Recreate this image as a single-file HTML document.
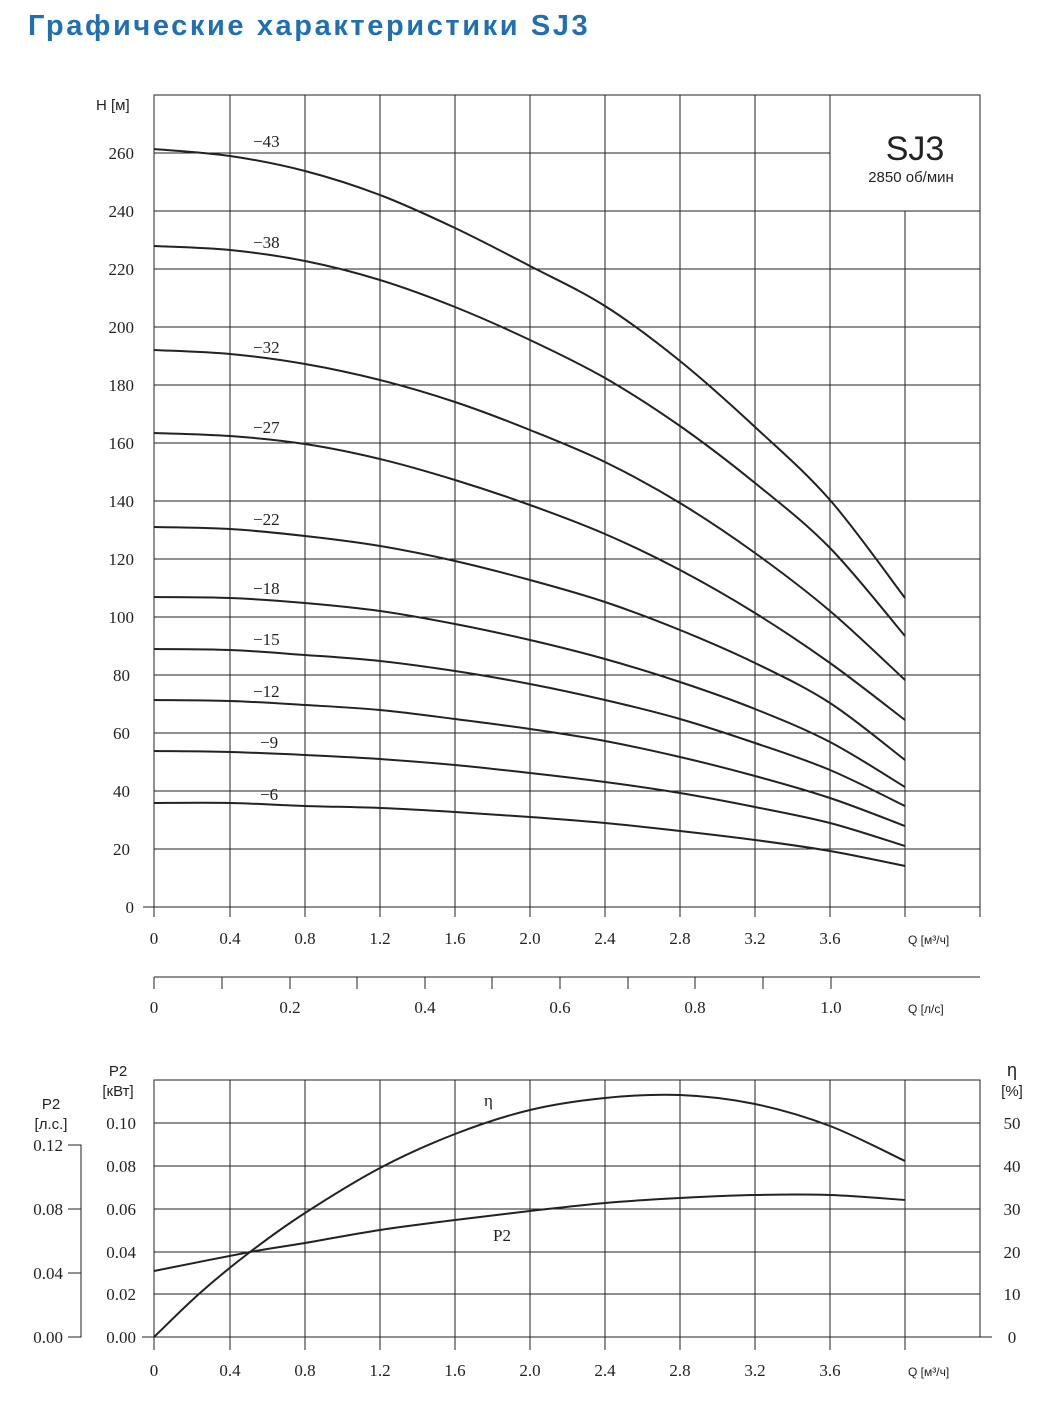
<!DOCTYPE html>
<html><head><meta charset="utf-8"><style>body{margin:0;background:#fff}svg{display:block}</style></head><body>
<svg id="s" width="1052" height="1401" xmlns="http://www.w3.org/2000/svg">
<text x="28" y="35" font-family="Liberation Sans, sans-serif" font-weight="bold" font-size="29" letter-spacing="2.6" fill="#1f6fb2">Графические характеристики SJ3</text>
<g stroke="#222" stroke-width="1" fill="none">
<rect x="154" y="95" width="826" height="812"/>
<path d="M154 849H980M154 791H980M154 733H980M154 675H980M154 617H980M154 559H980M154 501H980M154 443H980M154 385H980M154 327H980M154 269H980M154 211H980M154 153H830M143 907H154"/>
<path d="M230 95V917M305 95V917M380 95V917M455 95V917M530 95V917M605 95V917M680 95V917M755 95V917M830 95V917M905 211V917M980 95V917M154 907V917"/>
<path d="M154 977H980M154 977V989M222 977V989M290 977V989M357 977V989M425 977V989M492 977V989M560 977V989M628 977V989M695 977V989M763 977V989M831 977V989"/>
<rect x="154" y="1080" width="826" height="257"/>
<path d="M154 1294H980M154 1252H980M154 1209H980M154 1166H980M154 1123H980M142 1337H154M980 1337H992"/>
<path d="M230 1080V1350M305 1080V1350M380 1080V1350M455 1080V1350M530 1080V1350M605 1080V1350M680 1080V1350M755 1080V1350M830 1080V1350M905 1080V1350M154 1337V1350"/>
<path d="M68 1145H81V1337H68M68 1209H81M68 1273H81"/>
</g>
<g id="curves" stroke="#222" stroke-width="2" fill="none">
<polyline points="154,149 230,156 305,171 380,195 455,228 530,266 605,306 680,361 755,427 830,500 905,598"/>
<polyline points="154,246 230,250 305,261 380,280 455,307 530,340 605,378 680,426 755,483 830,548 905,636"/>
<polyline points="154,350 230,354 305,364 380,380 455,402 530,430 605,462 680,503 755,553 830,611 905,680"/>
<polyline points="154,433 230,436 305,444 380,459 455,480 530,505 605,534 680,570 755,613 830,663 905,720"/>
<polyline points="154,527 230,529 305,536 380,546 455,561 530,580 605,602 680,630 755,663 830,703 905,760"/>
<polyline points="154,597 230,598 305,603 380,611 455,624 530,640 605,659 680,682 755,709 830,742 905,787"/>
<polyline points="154,649 230,650 305,655 380,661 455,671 530,684 605,700 680,719 755,743 830,770 905,806"/>
<polyline points="154,700 230,701 305,705 380,710 455,719 530,729 605,741 680,757 755,776 830,798 905,826"/>
<polyline points="154,751 230,752 305,755 380,759 455,765 530,773 605,782 680,793 755,807 830,823 905,846"/>
<polyline points="154,803 230,803 305,806 380,808 455,812 530,817 605,823 680,831 755,840 830,851 905,866"/>
<polyline points="154,1337 200,1293 250,1252 305,1213 380,1168 455,1134 530,1110 605,1098 680,1095 755,1104 830,1126 905,1161"/>
<polyline points="154,1271 250,1252 305,1243 380,1230 455,1220 530,1211 605,1203 680,1198 755,1195 830,1195 905,1200"/>
</g>
<rect x="831" y="96" width="148" height="114" fill="#fff"/>
<g font-family="Liberation Serif, serif" font-size="17" fill="#222">
<g text-anchor="end">
<text x="134" y="913">0</text><text x="130" y="855">20</text><text x="130" y="797">40</text><text x="130" y="739">60</text><text x="130" y="681">80</text><text x="134" y="623">100</text><text x="134" y="565">120</text><text x="134" y="507">140</text><text x="134" y="449">160</text><text x="134" y="391">180</text><text x="134" y="333">200</text><text x="134" y="275">220</text><text x="134" y="217">240</text><text x="134" y="159">260</text>
<text x="136" y="1343">0.00</text><text x="136" y="1300">0.02</text><text x="136" y="1258">0.04</text><text x="136" y="1215">0.06</text><text x="136" y="1172">0.08</text><text x="136" y="1129">0.10</text>
<text x="63" y="1343">0.00</text><text x="63" y="1279">0.04</text><text x="63" y="1215">0.08</text><text x="63" y="1151">0.12</text>
</g>
<g text-anchor="middle">
<text x="154" y="944">0</text><text x="230" y="944">0.4</text><text x="305" y="944">0.8</text><text x="380" y="944">1.2</text><text x="455" y="944">1.6</text><text x="530" y="944">2.0</text><text x="605" y="944">2.4</text><text x="680" y="944">2.8</text><text x="755" y="944">3.2</text><text x="830" y="944">3.6</text>
<text x="154" y="1013">0</text><text x="290" y="1013">0.2</text><text x="425" y="1013">0.4</text><text x="560" y="1013">0.6</text><text x="695" y="1013">0.8</text><text x="831" y="1013">1.0</text>
<text x="154" y="1376">0</text><text x="230" y="1376">0.4</text><text x="305" y="1376">0.8</text><text x="380" y="1376">1.2</text><text x="455" y="1376">1.6</text><text x="530" y="1376">2.0</text><text x="605" y="1376">2.4</text><text x="680" y="1376">2.8</text><text x="755" y="1376">3.2</text><text x="830" y="1376">3.6</text>
<text x="1012" y="1343">0</text><text x="1012" y="1300">10</text><text x="1012" y="1258">20</text><text x="1012" y="1215">30</text><text x="1012" y="1172">40</text><text x="1012" y="1129">50</text>
</g>
<text x="253" y="147">−43</text><text x="253" y="248">−38</text><text x="253" y="353">−32</text><text x="253" y="433">−27</text><text x="253" y="525">−22</text><text x="253" y="594">−18</text><text x="253" y="645">−15</text><text x="253" y="697">−12</text><text x="260" y="748">−9</text><text x="260" y="800">−6</text>
<text x="484" y="1106">η</text><text x="493" y="1241">P2</text>
</g>
<g font-family="Liberation Sans, sans-serif" fill="#222">
<text x="96" y="110" font-size="15">H [м]</text>
<text x="908" y="944" font-size="12">Q [м³/ч]</text>
<text x="908" y="1013" font-size="12">Q [л/с]</text>
<text x="908" y="1376" font-size="12">Q [м³/ч]</text>
<text x="118" y="1076" font-size="15" text-anchor="middle">P2</text>
<text x="118" y="1096" font-size="15" text-anchor="middle">[кВт]</text>
<text x="51" y="1109" font-size="15" text-anchor="middle">P2</text>
<text x="51" y="1129" font-size="15" text-anchor="middle">[л.с.]</text>
<text x="1012" y="1076" font-size="18" text-anchor="middle">η</text>
<text x="1012" y="1096" font-size="15" text-anchor="middle">[%]</text>
<text x="915" y="160" font-size="34" text-anchor="middle">SJ3</text>
<text x="911" y="182" font-size="15" text-anchor="middle">2850 об/мин</text>
</g>
</svg>
<script>
(function(){
var g=document.getElementById('curves');
var pls=[].slice.call(g.getElementsByTagName('polyline'));
pls.forEach(function(pl){
 var p=pl.getAttribute('points').trim().split(/\s+/).map(function(s){var a=s.split(',');return [+a[0],+a[1]];});
 var d='M'+p[0][0]+' '+p[0][1];
 for(var i=0;i<p.length-1;i++){
  var p0=p[Math.max(0,i-1)],p1=p[i],p2=p[i+1],p3=p[Math.min(p.length-1,i+2)];
  var c1=[p1[0]+(p2[0]-p0[0])/6,p1[1]+(p2[1]-p0[1])/6];
  var c2=[p2[0]-(p3[0]-p1[0])/6,p2[1]-(p3[1]-p1[1])/6];
  d+=' C'+c1[0].toFixed(1)+' '+c1[1].toFixed(1)+' '+c2[0].toFixed(1)+' '+c2[1].toFixed(1)+' '+p2[0]+' '+p2[1];
 }
 var path=document.createElementNS('http://www.w3.org/2000/svg','path');
 path.setAttribute('d',d);
 g.replaceChild(path,pl);
});
})();
</script>
</body></html>
